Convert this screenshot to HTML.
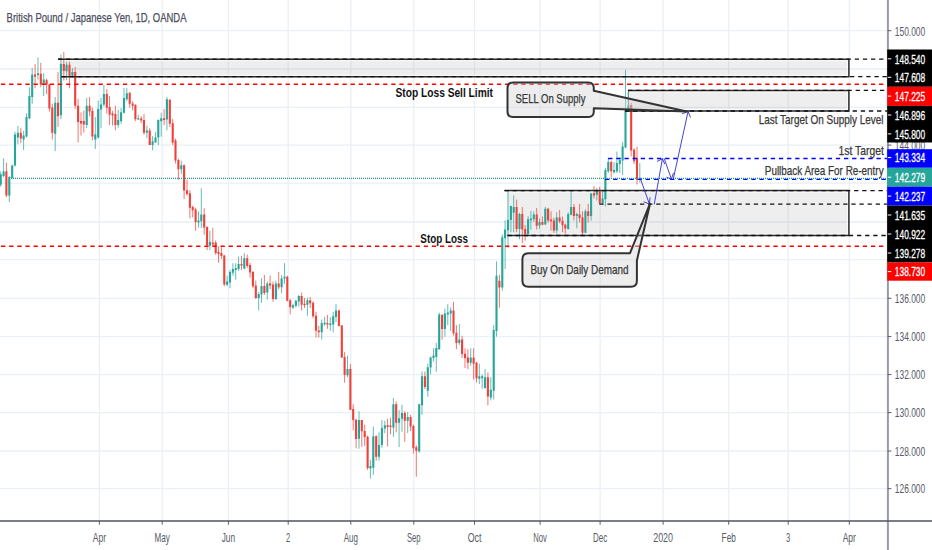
<!DOCTYPE html>
<html lang="en"><head><meta charset="utf-8"><title>GBPJPY 1D chart</title>
<style>html,body{margin:0;padding:0;background:#fff;overflow:hidden}svg{display:block}text{font-family:"Liberation Sans", sans-serif}.ax{fill:#555a66;font-size:13px}.lb{fill:#fff;font-size:13px;stroke:#fff;stroke-width:.3px}.an{fill:#383838;font-size:13px;stroke:#383838;stroke-width:.25px}.bd{fill:#111;font-size:13px;font-weight:bold}</style></head><body>
<svg width="932" height="550" viewBox="0 0 932 550">
<rect x="0" y="0" width="932" height="550" fill="#fff"/>
<path d="M0 488.7H887.8M0 451.0H887.8M0 412.6H887.8M0 374.6H887.8M0 336.6H887.8M0 298.3H887.8M0 259.6H887.8M0 222.0H887.8M0 183.2H887.8M0 145.1H887.8M0 107.3H887.8M0 69.0H887.8M0 30.7H887.8M99.4 0V520.7M162.2 0V520.7M228.4 0V520.7M288.2 0V520.7M350.8 0V520.7M413.8 0V520.7M474.5 0V520.7M540.1 0V520.7M600.1 0V520.7M663.1 0V520.7M728.7 0V520.7M788.2 0V520.7M849.3 0V520.7" stroke="#e9f0f6" stroke-width="1.3" fill="none"/>
<rect x="60.5" y="59.2" width="788.4" height="17.5" fill="rgba(120,120,120,0.13)"/>
<path d="M60.5 60.7H847.5M60.5 75.2H847.5M847.4 60.7V75.2" stroke="#fff" stroke-width="1" opacity="0.75" fill="none"/>
<rect x="628.2" y="90.4" width="220.7" height="20.6" fill="rgba(120,120,120,0.13)"/>
<path d="M628.2 91.9H847.5M628.2 109.5H847.5M847.4 91.9V109.5" stroke="#fff" stroke-width="1" opacity="0.75" fill="none"/>
<rect x="507.0" y="190.6" width="341.9" height="44.9" fill="rgba(120,120,120,0.13)"/>
<path d="M507.0 192.1H847.5M507.0 234.0H847.5M847.4 192.1V234.0" stroke="#fff" stroke-width="1" opacity="0.75" fill="none"/>
<g fill="none" stroke-width="1" opacity="0.72"><path d="M0.7 171.3V186.7M3.6 158.4V177.1M9.3 176.1V202.1M12.2 164.5V178.6M15.0 131.7V166.5M17.9 125.9V144.3M23.6 130.8V150.1M26.5 113.4V137.5M29.4 87.3V119.2M32.2 68.0V103.7M38.0 57.4V79.6M43.7 73.2V96.0M55.2 97.0V151.1M60.9 54.5V119.2M66.6 61.6V80.2M72.4 68.0V77.7M86.7 97.9V127.9M95.3 117.2V149.1M98.2 100.6V138.6M101.0 98.0V128.3M103.9 85.1V106.4M118.2 109.6V127.7M121.1 107.9V123.8M124.0 88.1V113.5M126.8 88.1V101.2M138.3 114.8V119.9M146.9 125.7V138.0M152.6 136.1V150.3M155.5 132.2V142.8M158.3 119.3V145.1M161.2 112.8V136.7M166.9 97.1V130.3M181.3 160.5V174.0M198.5 211.5V227.6M201.3 188.3V227.9M209.9 230.8V250.1M227.1 275.7V286.3M230.0 269.9V288.3M232.9 263.2V275.7M235.7 263.2V279.6M238.6 256.4V270.9M244.3 253.1V269.4M258.7 292.1V310.5M261.5 278.2V302.8M267.3 281.5V299.5M275.9 280.6V299.9M281.6 275.1V293.1M284.5 263.2V284.0M293.0 303.7V309.1M295.9 299.9V307.6M298.8 295.0V306.6M307.4 297.6V315.7M321.7 319.6V339.5M324.6 316.9V325.9M330.3 317.2V330.8M333.2 311.8V332.3M336.0 304.1V322.1M347.5 355.6V377.2M359.0 411.1V448.7M370.4 459.9V478.7M373.3 426.5V474.8M379.0 432.3V460.7M381.9 420.1V447.8M384.8 420.7V433.3M393.4 398.1V436.8M399.1 410.1V447.2M402.0 404.7V431.7M407.7 412.0V432.9M419.2 403.9V452.6M422.0 371.5V414.9M427.8 363.7V396.6M430.6 356.4V374.4M433.5 348.3V361.4M436.3 342.9V371.8M439.2 312.6V349.8M444.9 308.7V336.7M447.8 304.2V325.1M450.7 307.3V330.9M459.3 324.1V344.8M470.7 348.3V365.7M479.3 363.7V384.0M482.2 374.4V388.8M485.1 369.1V388.8M490.8 377.2V400.4M493.7 325.1V399.5M496.5 261.3V336.7M502.3 234.3V290.7M505.1 220.4V269.1M508.0 190.9V247.8M510.9 205.7V232.2M513.7 195.4V232.2M519.5 212.8V239.3M528.1 216.1V234.8M530.9 210.9V229.6M533.8 211.3V221.9M539.5 218.6V228.6M545.3 207.0V224.7M556.7 212.2V233.5M568.2 212.2V229.6M571.1 190.9V215.4M576.8 212.6V228.3M585.4 209.2V233.2M591.1 192.8V220.6M596.8 188.1V200.6M602.6 190.3V203.8M605.4 167.9V206.4M608.3 158.1V173.0M614.0 162.1V173.7M616.9 151.5V173.0M619.8 157.3V173.0M622.6 142.2V175.1M625.5 69.9V148.3M628.4 90.6V111.1M639.8 163.1V182.4" stroke="#26a69a"/><path d="M6.4 162.6V197.3M20.8 127.9V143.3M35.1 64.1V88.3M40.8 62.8V87.3M46.6 78.6V94.1M49.4 84.0V111.5M52.3 103.7V139.5M58.0 71.9V126.9M63.8 52.0V80.6M69.5 61.6V88.3M75.2 67.0V109.1M78.1 98.9V142.4M81.0 112.4V135.6M83.8 110.5V132.7M89.6 97.0V116.3M92.4 107.6V140.4M106.8 89.0V113.5M109.6 96.1V125.1M112.5 110.9V125.5M115.4 105.7V130.3M129.7 92.2V107.7M132.6 101.2V110.3M135.4 104.5V121.2M141.2 116.1V123.2M144.0 114.1V134.8M149.7 128.3V145.1M164.1 109.0V125.1M169.8 99.3V127.0M172.7 119.0V145.1M175.5 138.5V163.4M178.4 158.6V179.8M184.1 164.4V199.0M187.0 179.7V195.5M189.9 190.3V218.3M192.7 205.7V217.3M195.6 207.7V230.8M204.2 208.2V234.7M207.1 226.4V250.1M212.8 227.9V246.3M215.7 240.5V255.0M218.5 246.3V262.7M221.4 247.2V258.8M224.3 255.0V286.3M241.5 255.8V269.9M247.2 254.5V268.0M250.1 262.8V277.7M252.9 270.9V288.3M255.8 280.6V298.9M264.4 275.1V295.0M270.1 275.7V289.2M273.0 281.5V301.8M278.7 271.9V289.2M287.3 275.7V301.4M290.2 298.9V314.4M301.6 292.5V310.5M304.5 297.9V308.0M310.2 297.0V308.0M313.1 301.4V318.2M316.0 311.8V337.5M318.8 325.9V337.5M327.4 314.9V328.8M338.9 309.5V326.5M341.8 325.0V357.9M344.6 352.1V382.7M350.4 364.1V410.1M353.2 404.3V430.4M356.1 418.8V448.3M361.8 419.8V446.8M364.7 424.6V445.8M367.6 435.6V470.0M376.2 435.2V460.7M387.6 418.8V446.4M390.5 417.8V434.2M396.2 401.4V432.3M404.8 411.1V442.0M410.6 414.9V431.0M413.4 424.6V453.6M416.3 445.3V476.7M424.9 371.5V389.2M442.1 313.9V339.6M453.5 301.9V335.7M456.4 325.1V349.2M462.1 335.7V357.9M465.0 348.3V368.0M467.9 349.2V369.1M473.6 348.3V379.6M476.5 361.8V382.7M487.9 372.4V405.3M499.4 274.9V307.7M516.6 199.7V232.2M522.3 207.0V243.2M525.2 225.1V240.6M536.7 207.9V229.6M542.4 216.5V225.1M548.1 207.9V222.5M551.0 211.3V230.6M553.9 217.7V232.8M559.6 210.0V223.2M562.5 216.5V232.2M565.3 223.8V233.7M573.9 204.1V220.6M579.6 203.8V222.5M582.5 211.3V234.8M588.2 203.8V222.5M594.0 186.0V198.4M599.7 186.8V203.8M611.2 160.6V177.3M631.2 102.9V156.2M634.1 148.3V164.0M637.0 146.8V184.6" stroke="#f0403a"/></g>
<g fill="none" stroke-width="2.1"><path d="M0.7 174.2V184.8M3.6 171.5V175.9M9.3 177.1V195.4M12.2 165.5V178.0M15.0 134.6V165.5M17.9 132.7V137.5M23.6 135.6V139.5M26.5 116.9V136.6M29.4 96.0V118.2M32.2 74.4V97.0M38.0 73.2V75.1M43.7 79.6V84.4M55.2 102.8V133.7M60.9 64.1V115.3M66.6 64.7V71.3M72.4 71.9V75.7M86.7 105.7V125.0M95.3 134.6V139.5M98.2 109.0V137.4M101.0 104.5V109.6M103.9 94.1V104.5M118.2 119.9V125.1M121.1 112.2V121.2M124.0 98.0V112.8M126.8 93.2V99.3M138.3 118.3V119.5M146.9 130.6V132.8M152.6 141.2V145.1M155.5 137.4V142.5M158.3 119.9V137.6M161.2 118.3V121.2M166.9 99.3V119.5M181.3 165.3V169.2M198.5 220.6V222.5M201.3 214.4V221.2M209.9 241.8V245.7M227.1 281.5V284.8M230.0 271.9V282.5M232.9 269.0V272.8M235.7 268.0V269.9M238.6 264.1V269.0M244.3 258.3V268.6M258.7 294.1V297.9M261.5 286.0V294.5M267.3 283.5V292.5M275.9 283.5V298.9M281.6 278.6V287.3M284.5 276.7V278.6M293.0 305.3V307.6M295.9 300.8V305.7M298.8 296.0V301.4M307.4 300.3V304.7M321.7 323.0V332.3M324.6 322.7V324.2M330.3 323.4V325.0M333.2 316.3V324.6M336.0 310.5V316.9M347.5 369.1V375.3M359.0 420.1V438.7M370.4 466.1V468.4M373.3 436.2V467.7M379.0 444.9V456.8M381.9 427.9V444.9M384.8 425.2V428.5M393.4 404.3V427.5M399.1 418.2V422.7M402.0 413.0V418.8M407.7 416.9V420.7M419.2 404.3V451.6M422.0 376.3V405.3M427.8 367.2V390.8M430.6 357.6V367.6M433.5 355.6V357.9M436.3 347.9V357.0M439.2 314.5V349.2M444.9 313.5V329.0M447.8 312.6V314.5M450.7 310.6V313.5M459.3 339.6V342.9M470.7 357.6V362.8M479.3 376.3V378.8M482.2 376.3V378.2M485.1 377.2V387.9M490.8 389.8V397.5M493.7 329.9V390.8M496.5 275.8V330.9M502.3 237.2V287.4M505.1 229.5V238.2M508.0 219.9V230.3M510.9 206.1V219.9M513.7 207.0V212.8M519.5 214.1V229.0M528.1 219.3V234.1M530.9 218.6V220.3M533.8 214.4V219.3M539.5 222.1V225.5M545.3 208.7V224.5M556.7 217.4V230.6M568.2 214.1V229.0M571.1 207.0V214.8M576.8 214.1V216.1M585.4 211.3V232.8M591.1 193.5V216.1M596.8 190.9V194.8M602.6 198.6V203.2M605.4 170.1V199.3M608.3 162.1V171.2M614.0 170.1V172.2M616.9 163.1V171.2M619.8 159.9V164.0M622.6 146.5V160.6M625.5 110.3V147.5M628.4 105.4V110.8M639.8 177.8V179.1" stroke="#26a69a"/><path d="M6.4 171.3V195.4M20.8 132.7V138.5M35.1 74.4V76.7M40.8 73.8V84.4M46.6 80.2V84.8M49.4 84.4V108.6M52.3 107.6V132.7M58.0 102.8V116.3M63.8 64.1V70.9M69.5 64.7V75.7M75.2 71.9V105.7M78.1 105.7V122.1M81.0 121.1V123.4M83.8 121.1V124.6M89.6 105.7V111.5M92.4 111.1V136.6M106.8 94.1V107.7M109.6 107.0V114.8M112.5 113.5V115.4M115.4 114.1V125.1M129.7 92.8V103.8M132.6 103.5V105.7M135.4 104.8V119.3M141.2 118.6V120.6M144.0 119.9V132.8M149.7 130.6V145.1M164.1 118.3V119.9M169.8 99.7V123.8M172.7 123.2V142.5M175.5 140.4V160.5M178.4 159.9V169.2M184.1 165.3V190.4M187.0 190.3V194.1M189.9 193.2V207.7M192.7 207.1V210.2M195.6 209.6V222.1M204.2 214.4V227.6M207.1 227.0V245.3M212.8 242.4V244.4M215.7 242.4V253.0M218.5 252.1V254.0M221.4 253.0V255.9M224.3 255.4V284.4M241.5 264.1V265.5M247.2 258.3V266.1M250.1 265.1V272.4M252.9 271.9V286.3M255.8 285.4V297.9M264.4 286.0V293.1M270.1 283.5V285.4M273.0 284.4V298.9M278.7 283.5V287.3M287.3 276.7V300.8M290.2 300.3V307.2M301.6 296.0V304.7M304.5 303.7V305.3M310.2 300.3V303.3M313.1 302.8V316.3M316.0 315.7V330.8M318.8 330.4V332.3M327.4 323.0V324.6M338.9 310.5V325.9M341.8 325.4V357.6M344.6 357.0V374.9M350.4 369.1V409.7M353.2 409.1V420.1M356.1 419.8V439.1M361.8 420.1V431.3M364.7 431.0V437.1M367.6 436.8V468.0M376.2 436.2V456.8M387.6 425.2V427.1M390.5 425.6V427.1M396.2 404.3V422.7M404.8 413.0V420.7M410.6 416.9V426.5M413.4 425.9V448.3M416.3 447.2V450.7M424.9 376.3V386.9M442.1 315.1V329.0M453.5 310.6V333.2M456.4 332.8V342.9M462.1 339.6V354.1M465.0 353.7V358.3M467.9 357.6V362.8M473.6 357.6V363.7M476.5 362.8V378.2M487.9 377.2V396.6M499.4 280.7V287.4M516.6 207.0V229.0M522.3 214.1V229.6M525.2 229.0V234.1M536.7 214.4V225.7M542.4 222.1V224.7M548.1 208.7V220.6M551.0 219.5V221.2M553.9 220.6V230.6M559.6 217.4V221.2M562.5 220.8V225.1M565.3 224.7V228.6M573.9 207.0V216.1M579.6 214.4V218.0M582.5 217.4V232.8M588.2 211.3V216.1M594.0 193.2V195.4M599.7 190.6V203.2M611.2 162.1V171.2M631.2 104.9V150.4M634.1 149.7V161.3M637.0 158.1V179.5" stroke="#f0403a"/></g>
<path d="M58.0 59.2H848.9V76.7H61.4" stroke="#2b2b2b" stroke-width="1.5" fill="none"/>
<path d="M628.2 90.4H848.9V111.0H625.0" stroke="#2b2b2b" stroke-width="1.5" fill="none"/>
<path d="M628.2 90.4V111.0" stroke="#2b2b2b" stroke-width="1" opacity="0.35" fill="none"/>
<path d="M504.5 190.6H848.9V235.5H507.4" stroke="#2b2b2b" stroke-width="1.5" fill="none"/>
<path d="M58.0 59.2H887.8" stroke="#111" stroke-width="1.3" stroke-dasharray="4.3 3.83" fill="none"/>
<path d="M61.4 76.7H887.8" stroke="#111" stroke-width="1.3" stroke-dasharray="4.3 3.83" fill="none"/>
<path d="M628.0 90.4H887.8" stroke="#111" stroke-width="1.3" stroke-dasharray="4.3 3.83" fill="none"/>
<path d="M625.0 111.0H887.8" stroke="#111" stroke-width="1.3" stroke-dasharray="4.3 3.83" fill="none"/>
<path d="M504.5 190.6H887.8" stroke="#111" stroke-width="1.3" stroke-dasharray="4.3 3.83" fill="none"/>
<path d="M599.3 204.1H887.8" stroke="#111" stroke-width="1.3" stroke-dasharray="4.3 3.83" fill="none"/>
<path d="M507.4 235.5H887.8" stroke="#111" stroke-width="1.3" stroke-dasharray="4.3 3.83" fill="none"/>
<path d="M1.0 84.2H887.8" stroke="#f00" stroke-width="1.6" stroke-dasharray="4.3 3.83" fill="none"/>
<path d="M1.0 246.3H887.8" stroke="#f00" stroke-width="1.6" stroke-dasharray="4.3 3.83" fill="none"/>
<path d="M608.2 158.5H887.8" stroke="#00f" stroke-width="1.3" stroke-dasharray="4.3 3.83" fill="none"/>
<path d="M605.0 179.3H887.8" stroke="#00f" stroke-width="1.3" stroke-dasharray="4.3 3.83" fill="none"/>
<path d="M11 178.4H887.8" stroke="#1f9c8f" stroke-width="1.2" stroke-dasharray="1 1" fill="none"/>
<path d="M640.5 179L649.4 204M654.3 204L662.4 158.8M664.3 158.8L671.4 179M673.3 179L688.1 111.5M644 201.9L649.4 204L650 197.8M657.3 161.3L662.4 158.8L664.6 163.7M666.8 177.3L671.4 179L673.4 173.2M682.4 113.6L688.1 111.5L690.4 117.1" stroke="#2a2ac8" stroke-width="1" opacity="0.88" fill="none" stroke-linejoin="round" stroke-linecap="round"/>

<g fill="rgba(212,212,212,0.42)" stroke="#333" stroke-width="2" stroke-linejoin="round">
<path d="M513 82.6H588.3Q593.8 82.6 593.8 88.1V90.7L686.7 111.6L593.8 108.3V111.4Q593.8 116.9 588.3 116.9H513Q507.5 116.9 507.5 111.4V88.1Q507.5 82.6 513 82.6Z"/>
<path d="M528.4 253.2H630L650 203.7L636.9 260.5V280.8Q636.9 286.8 630.9 286.8H528.4Q522.4 286.8 522.4 280.8V259.2Q522.4 253.2 528.4 253.2Z"/>
</g>
<text class="an" x="515.5" y="103.2" textLength="69.9" lengthAdjust="spacingAndGlyphs">SELL On Supply</text>
<text class="an" x="530.4" y="273.6" textLength="98.1" lengthAdjust="spacingAndGlyphs">Buy On Daily Demand</text>

<text class="bd" x="493.0" y="97.2" text-anchor="end" textLength="97.5" lengthAdjust="spacingAndGlyphs">Stop Loss Sell Limit</text>
<text class="bd" x="468.0" y="242.6" text-anchor="end" textLength="47.7" lengthAdjust="spacingAndGlyphs">Stop Loss</text>
<text class="an" x="883.6" y="124.2" text-anchor="end" textLength="124.9" lengthAdjust="spacingAndGlyphs">Last Target On Supply Level</text>
<text class="an" x="883.8" y="154.6" text-anchor="end" textLength="45.2" lengthAdjust="spacingAndGlyphs">1st Target</text>
<text class="an" x="883.6" y="175.3" text-anchor="end" textLength="118.8" lengthAdjust="spacingAndGlyphs">Pullback Area For Re-entry</text>
<text x="6.6" y="21.7" font-size="13.6px" fill="#4b4d5c" stroke="#4b4d5c" stroke-width=".25" textLength="179.9" lengthAdjust="spacingAndGlyphs">British Pound / Japanese Yen, 1D, OANDA</text>
<rect x="887.8" y="0" width="44.2" height="550" fill="#fff"/>
<rect x="0" y="520.7" width="932" height="29.3" fill="#fff"/>
<path d="M887.9 0V550" stroke="#989ba6" stroke-width="2" fill="none"/>
<path d="M0 521.0H932" stroke="#50535f" stroke-width="1.7" fill="none"/>
<text class="ax" x="99.4" y="541.7" text-anchor="middle" textLength="13.2" lengthAdjust="spacingAndGlyphs">Apr</text>
<text class="ax" x="162.2" y="541.7" text-anchor="middle" textLength="15.3" lengthAdjust="spacingAndGlyphs">May</text>
<text class="ax" x="228.4" y="541.7" text-anchor="middle" textLength="13.4" lengthAdjust="spacingAndGlyphs">Jun</text>
<text class="ax" x="288.2" y="541.7" text-anchor="middle" textLength="4.2" lengthAdjust="spacingAndGlyphs">2</text>
<text class="ax" x="350.8" y="541.7" text-anchor="middle" textLength="14.2" lengthAdjust="spacingAndGlyphs">Aug</text>
<text class="ax" x="413.8" y="541.7" text-anchor="middle" textLength="13.5" lengthAdjust="spacingAndGlyphs">Sep</text>
<text class="ax" x="474.5" y="541.7" text-anchor="middle" textLength="13.7" lengthAdjust="spacingAndGlyphs">Oct</text>
<text class="ax" x="540.1" y="541.7" text-anchor="middle" textLength="13.7" lengthAdjust="spacingAndGlyphs">Nov</text>
<text class="ax" x="600.1" y="541.7" text-anchor="middle" textLength="14.1" lengthAdjust="spacingAndGlyphs">Dec</text>
<text class="ax" x="663.1" y="541.7" text-anchor="middle" textLength="19.8" lengthAdjust="spacingAndGlyphs">2020</text>
<text class="ax" x="728.7" y="541.7" text-anchor="middle" textLength="14.2" lengthAdjust="spacingAndGlyphs">Feb</text>
<text class="ax" x="788.2" y="541.7" text-anchor="middle" textLength="4.2" lengthAdjust="spacingAndGlyphs">3</text>
<text class="ax" x="849.3" y="541.7" text-anchor="middle" textLength="13.2" lengthAdjust="spacingAndGlyphs">Apr</text>
<path d="M99.4 520.7v4M162.2 520.7v4M228.4 520.7v4M288.2 520.7v4M350.8 520.7v4M413.8 520.7v4M474.5 520.7v4M540.1 520.7v4M600.1 520.7v4M663.1 520.7v4M728.7 520.7v4M788.2 520.7v4M849.3 520.7v4" stroke="#585c66" stroke-width="1" fill="none"/>
<text class="ax" x="894.8" y="493.4" text-anchor="start" textLength="30.4" lengthAdjust="spacingAndGlyphs">126.000</text>
<text class="ax" x="894.8" y="455.8" text-anchor="start" textLength="30.4" lengthAdjust="spacingAndGlyphs">128.000</text>
<text class="ax" x="894.8" y="417.4" text-anchor="start" textLength="30.4" lengthAdjust="spacingAndGlyphs">130.000</text>
<text class="ax" x="894.8" y="379.4" text-anchor="start" textLength="30.4" lengthAdjust="spacingAndGlyphs">132.000</text>
<text class="ax" x="894.8" y="341.4" text-anchor="start" textLength="30.4" lengthAdjust="spacingAndGlyphs">134.000</text>
<text class="ax" x="894.8" y="303.1" text-anchor="start" textLength="30.4" lengthAdjust="spacingAndGlyphs">136.000</text>
<text class="ax" x="894.8" y="264.4" text-anchor="start" textLength="30.4" lengthAdjust="spacingAndGlyphs">138.000</text>
<text class="ax" x="894.8" y="226.8" text-anchor="start" textLength="30.4" lengthAdjust="spacingAndGlyphs">140.000</text>
<text class="ax" x="894.8" y="187.9" text-anchor="start" textLength="30.4" lengthAdjust="spacingAndGlyphs">142.000</text>
<text class="ax" x="894.8" y="149.8" text-anchor="start" textLength="30.4" lengthAdjust="spacingAndGlyphs">144.000</text>
<text class="ax" x="894.8" y="112.0" text-anchor="start" textLength="30.4" lengthAdjust="spacingAndGlyphs">146.000</text>
<text class="ax" x="894.8" y="73.8" text-anchor="start" textLength="30.4" lengthAdjust="spacingAndGlyphs">148.000</text>
<text class="ax" x="894.8" y="35.5" text-anchor="start" textLength="30.4" lengthAdjust="spacingAndGlyphs">150.000</text>
<path d="M887.8 488.7h3.6M887.8 451.0h3.6M887.8 412.6h3.6M887.8 374.6h3.6M887.8 336.6h3.6M887.8 298.3h3.6M887.8 259.6h3.6M887.8 222.0h3.6M887.8 183.2h3.6M887.8 145.1h3.6M887.8 107.3h3.6M887.8 69.0h3.6M887.8 30.7h3.6" stroke="#585c66" stroke-width="1" fill="none"/>
<rect x="887.2" y="49.5" width="44.8" height="37.3" fill="#000"/>
<text class="lb" x="894.8" y="63.5" text-anchor="start" textLength="30.4" lengthAdjust="spacingAndGlyphs">148.540</text>
<text class="lb" x="894.8" y="82.0" text-anchor="start" textLength="30.4" lengthAdjust="spacingAndGlyphs">147.608</text>
<rect x="887.2" y="86.8" width="44.8" height="19.1" fill="#f00"/>
<text class="lb" x="894.8" y="100.8" text-anchor="start" textLength="30.4" lengthAdjust="spacingAndGlyphs">147.225</text>
<rect x="887.2" y="105.9" width="44.8" height="36.6" fill="#000"/>
<text class="lb" x="894.8" y="119.8" text-anchor="start" textLength="30.4" lengthAdjust="spacingAndGlyphs">146.896</text>
<text class="lb" x="894.8" y="138.7" text-anchor="start" textLength="30.4" lengthAdjust="spacingAndGlyphs">145.800</text>
<rect x="887.2" y="149.2" width="44.8" height="18.6" fill="#00f"/>
<text class="lb" x="894.8" y="162.3" text-anchor="start" textLength="30.4" lengthAdjust="spacingAndGlyphs">143.334</text>
<rect x="887.2" y="167.8" width="44.8" height="18.9" fill="#26a69a"/>
<text class="lb" x="894.8" y="181.9" text-anchor="start" textLength="30.4" lengthAdjust="spacingAndGlyphs">142.279</text>
<rect x="887.2" y="186.7" width="44.8" height="18.9" fill="#00f"/>
<text class="lb" x="894.8" y="200.8" text-anchor="start" textLength="30.4" lengthAdjust="spacingAndGlyphs">142.237</text>
<rect x="887.2" y="205.6" width="44.8" height="56.8" fill="#000"/>
<text class="lb" x="894.8" y="219.8" text-anchor="start" textLength="30.4" lengthAdjust="spacingAndGlyphs">141.635</text>
<text class="lb" x="894.8" y="238.8" text-anchor="start" textLength="30.4" lengthAdjust="spacingAndGlyphs">140.922</text>
<text class="lb" x="894.8" y="257.8" text-anchor="start" textLength="30.4" lengthAdjust="spacingAndGlyphs">139.278</text>
<rect x="887.2" y="262.4" width="44.8" height="18.3" fill="#f00"/>
<text class="lb" x="894.8" y="276.4" text-anchor="start" textLength="30.4" lengthAdjust="spacingAndGlyphs">138.730</text>
<path d="M887.8 58.8h3.5M887.8 77.3h3.5M887.8 96.1h3.5M887.8 115.0h3.5M887.8 133.9h3.5M887.8 157.6h3.5M887.8 177.2h3.5M887.8 196.1h3.5M887.8 215.0h3.5M887.8 234.0h3.5M887.8 253.0h3.5M887.8 271.6h3.5" stroke="#fff" stroke-width="1" fill="none"/>
</svg></body></html>
